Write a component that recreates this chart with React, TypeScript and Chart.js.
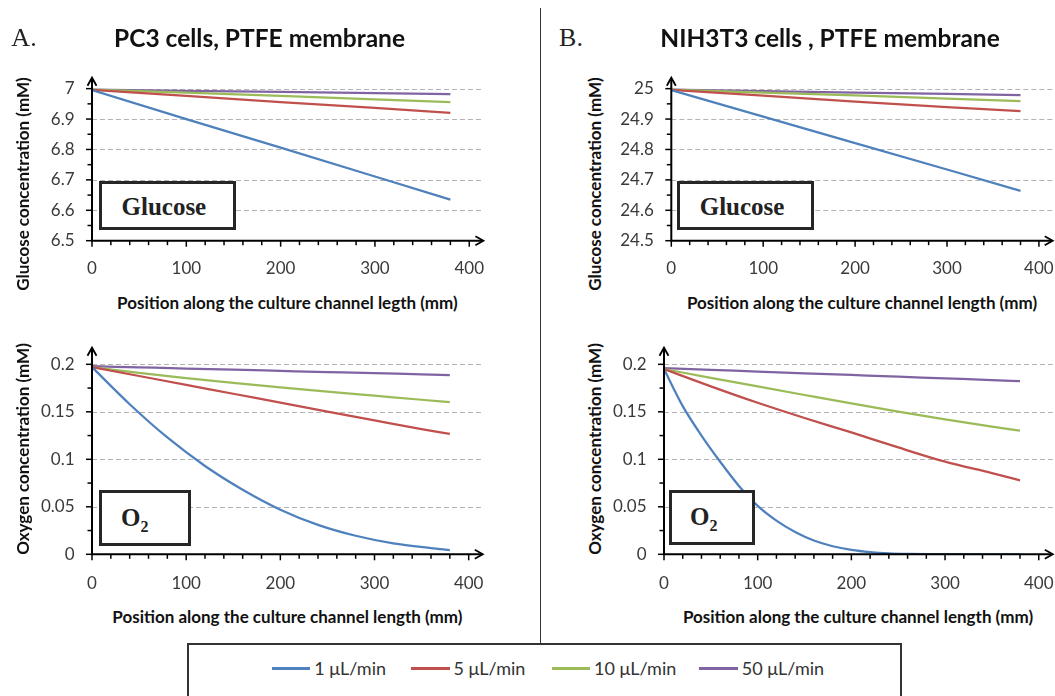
import React, { useEffect, useRef } from "react";
import { Chart, registerables } from "chart.js";
Chart.register(...registerables);

// ---------------- data ----------------
const SERIES_LABELS = ["1 \u03bcL/min", "5 \u03bcL/min", "10 \u03bcL/min", "50 \u03bcL/min"];
const SERIES_COLORS = ["#4F81BD", "#C0504D", "#9BBB59", "#8064A2"];

const X_TICKS = [0, 100, 200, 300, 400];
const GLU_A_TICKS = [6.5, 6.6, 6.7, 6.8, 6.9, 7];
const GLU_B_TICKS = [24.5, 24.6, 24.7, 24.8, 24.9, 25];
const O2_TICKS = [0, 0.05, 0.1, 0.15, 0.2];

// Glucose (straight profiles)
const GLU_POS = [0, 100, 200, 300, 380];
const A_GLU_1 = [6.995, 6.9, 6.806, 6.711, 6.635];
const A_GLU_5 = [6.996, 6.976, 6.956, 6.937, 6.92];
const A_GLU_10 = [6.997, 6.987, 6.976, 6.965, 6.956];
const A_GLU_50 = [6.997, 6.993, 6.989, 6.985, 6.982];

const B_GLU_1 = [24.995, 24.908, 24.821, 24.734, 24.664];
const B_GLU_5 = [24.996, 24.977, 24.957, 24.939, 24.926];
const B_GLU_10 = [24.997, 24.987, 24.978, 24.967, 24.959];
const B_GLU_50 = [24.997, 24.992, 24.987, 24.983, 24.979];

// Oxygen
const A_O2_POS_1 = [0, 40, 80, 120, 160, 200, 240, 280, 320, 360, 380];
const A_O2_1 = [0.197, 0.158, 0.123, 0.093, 0.068, 0.047, 0.031, 0.0195, 0.0115, 0.0065, 0.0044];
const O2_POS = [0, 50, 100, 150, 200, 250, 300, 350, 380];
const A_O2_5 = [0.197, 0.1877, 0.1784, 0.169, 0.1597, 0.1503, 0.141, 0.1318, 0.1267];
const A_O2_10 = [0.197, 0.191, 0.1855, 0.1805, 0.1758, 0.1713, 0.167, 0.1627, 0.1602];
const A_O2_50 = [0.198, 0.1968, 0.1956, 0.1943, 0.1931, 0.1919, 0.1907, 0.1894, 0.1887];

const B_O2_POS_1 = [0, 20, 40, 60, 80, 100, 120, 140, 160, 180, 200, 220, 240, 260, 280, 300, 340, 380];
const B_O2_1 = [0.195, 0.156, 0.125, 0.0974, 0.072, 0.051, 0.0355, 0.0235, 0.0145, 0.0085, 0.0047, 0.0024, 0.0011, 0.0005, 0.0002, 0.0001, 0, 0];
const B_O2_5 = [0.195, 0.1768, 0.1595, 0.1435, 0.1283, 0.1125, 0.0975, 0.0855, 0.0779];
const B_O2_10 = [0.195, 0.1858, 0.1767, 0.1677, 0.1588, 0.1502, 0.1421, 0.1345, 0.1302];
const B_O2_50 = [0.196, 0.1942, 0.1924, 0.1906, 0.1888, 0.187, 0.1852, 0.1834, 0.1823];

const X_AXIS_MAX = 415;

// ---------------- styling ----------------
const SANS = "Lato, 'Open Sans', 'DejaVu Sans', sans-serif";
const SERIF = "'Liberation Serif', 'DejaVu Serif', serif";
const TICK_COLOR = "#3a3a3a";
const TICK_SIZE = 17;

type Box = { left: number; top: number; width: number; height: number };
type Area = { left: number; right: number; top: number; bottom: number };
type SeriesDef = { pos: number[]; vals: number[]; smooth: boolean };

type PanelDef = {
  canvas: Box;
  area: Area;
  yMin: number;
  yMax: number;
  yTicks: number[];
  yMinorDiv: number;
  xLabelPad: number;
  series: SeriesDef[];
};

const arrowAxes = {
  id: "arrowAxes",
  beforeDatasetsDraw(chart: any, _a: any, opts: any) {
    const { ctx, chartArea: a, scales } = chart;
    const y = scales.y;
    ctx.save();
    ctx.strokeStyle = "#b4b4b4";
    ctx.lineWidth = 1;
    ctx.setLineDash([5, 3]);
    opts.yTicks.forEach((v: number, i: number) => {
      if (i === 0) return;
      const py = Math.round(y.getPixelForValue(v)) + 0.5;
      ctx.beginPath();
      ctx.moveTo(a.left, py);
      ctx.lineTo(a.right, py);
      ctx.stroke();
    });
    ctx.restore();
  },
  afterDatasetsDraw(chart: any, _a: any, opts: any) {
    const { ctx, chartArea: a, scales } = chart;
    const x = scales.x;
    const y = scales.y;
    const x0 = a.left;
    const y0 = a.bottom;
    ctx.save();
    ctx.strokeStyle = "#000";
    ctx.lineCap = "butt";
    ctx.lineWidth = 1.5;
    const xt: number[] = opts.xTicks;
    for (let i = 0; i < xt.length; i++) {
      const px = x.getPixelForValue(xt[i]);
      ctx.beginPath();
      ctx.moveTo(px, y0);
      ctx.lineTo(px, y0 + 6);
      ctx.stroke();
      if (i < xt.length - 1) {
        for (let k = 1; k < 5; k++) {
          const v = xt[i] + ((xt[i + 1] - xt[i]) * k) / 5;
          const p = x.getPixelForValue(v);
          ctx.beginPath();
          ctx.moveTo(p, y0);
          ctx.lineTo(p, y0 + 4.5);
          ctx.stroke();
        }
      }
    }
    const yt: number[] = opts.yTicks;
    for (let i = 0; i < yt.length; i++) {
      const py = y.getPixelForValue(yt[i]);
      ctx.beginPath();
      ctx.moveTo(x0, py);
      ctx.lineTo(x0 - 6, py);
      ctx.stroke();
      if (i < yt.length - 1) {
        for (let k = 1; k < opts.yMinorDiv; k++) {
          const v = yt[i] + ((yt[i + 1] - yt[i]) * k) / opts.yMinorDiv;
          const p = y.getPixelForValue(v);
          ctx.beginPath();
          ctx.moveTo(x0, p);
          ctx.lineTo(x0 - 4.5, p);
          ctx.stroke();
        }
      }
    }
    ctx.lineWidth = 2;
    ctx.beginPath();
    ctx.moveTo(x0, y0 + 1);
    ctx.lineTo(x0, a.top + 1);
    ctx.moveTo(x0 - 1, y0);
    ctx.lineTo(a.right - 1, y0);
    ctx.stroke();
    ctx.lineWidth = 1.8;
    ctx.beginPath();
    ctx.moveTo(x0 - 4.5, a.top + 8);
    ctx.lineTo(x0, a.top);
    ctx.lineTo(x0 + 4.5, a.top + 8);
    ctx.moveTo(a.right - 8, y0 - 4.5);
    ctx.lineTo(a.right, y0);
    ctx.lineTo(a.right - 8, y0 + 4.5);
    ctx.stroke();
    ctx.restore();
  },
};

function fmt(v: number) {
  return String(Math.round(v * 1000) / 1000);
}

function Panel({ def }: { def: PanelDef }) {
  const ref = useRef<HTMLCanvasElement | null>(null);
  useEffect(() => {
    const c = def.canvas;
    const a = def.area;
    const chart = new Chart(ref.current as HTMLCanvasElement, {
      type: "line",
      data: {
        datasets: def.series.map((s, i) => ({
          label: SERIES_LABELS[i],
          data: s.pos.map((p, j) => ({ x: p, y: s.vals[j] })),
          borderColor: SERIES_COLORS[i],
          backgroundColor: SERIES_COLORS[i],
          borderWidth: 2.25,
          pointRadius: 0,
          tension: 0,
          cubicInterpolationMode: s.smooth ? "monotone" : "default",
          fill: false,
        })),
      },
      options: {
        responsive: false,
        animation: false,
        events: [],
        layout: {
          padding: {
            left: 0,
            bottom: 0,
            top: a.top - c.top,
            right: c.left + c.width - a.right,
          },
        },
        plugins: {
          legend: { display: false },
          tooltip: { enabled: false },
          arrowAxes: { xTicks: X_TICKS, yTicks: def.yTicks, yMinorDiv: def.yMinorDiv },
        } as any,
        scales: {
          x: {
            type: "linear",
            min: 0,
            max: X_AXIS_MAX,
            grid: { display: false, drawTicks: false },
            border: { display: false },
            afterFit: (s: any) => {
              s.height = c.top + c.height - a.bottom;
            },
            afterBuildTicks: (s: any) => {
              s.ticks = X_TICKS.map((v) => ({ value: v }));
            },
            ticks: {
              autoSkip: false,
              maxRotation: 0,
              padding: def.xLabelPad,
              color: TICK_COLOR,
              font: { family: SANS, size: TICK_SIZE },
              callback: (v: any) => fmt(Number(v)),
            },
          },
          y: {
            type: "linear",
            min: def.yMin,
            max: def.yMax,
            grid: { display: false, drawTicks: false },
            border: { display: false },
            afterFit: (s: any) => {
              s.width = a.left - c.left;
            },
            afterBuildTicks: (s: any) => {
              s.ticks = def.yTicks.map((v) => ({ value: v }));
            },
            ticks: {
              autoSkip: false,
              padding: 17.5,
              color: TICK_COLOR,
              font: { family: SANS, size: TICK_SIZE },
              callback: (v: any) => fmt(Number(v)),
            },
          },
        },
      } as any,
      plugins: [arrowAxes as any],
    });
    return () => chart.destroy();
  }, [def]);
  const c = def.canvas;
  return (
    <canvas
      ref={ref}
      width={c.width}
      height={c.height}
      style={{ position: "absolute", left: c.left, top: c.top, width: c.width, height: c.height }}
    />
  );
}

const PANELS: PanelDef[] = [
  {
    canvas: { left: 30, top: 50, width: 480, height: 232 },
    area: { left: 92, right: 483.4, top: 75.2, bottom: 240.7 },
    yMin: 6.5,
    yMax: 7.036,
    yTicks: GLU_A_TICKS,
    yMinorDiv: 2,
    xLabelPad: 17.4,
    series: [
      { pos: GLU_POS, vals: A_GLU_1, smooth: false },
      { pos: GLU_POS, vals: A_GLU_5, smooth: false },
      { pos: GLU_POS, vals: A_GLU_10, smooth: false },
      { pos: GLU_POS, vals: A_GLU_50, smooth: false },
    ],
  },
  {
    canvas: { left: 605, top: 50, width: 475, height: 232 },
    area: { left: 671.3, right: 1052.7, top: 75.2, bottom: 240.7 },
    yMin: 24.5,
    yMax: 25.036,
    yTicks: GLU_B_TICKS,
    yMinorDiv: 2,
    xLabelPad: 17.4,
    series: [
      { pos: GLU_POS, vals: B_GLU_1, smooth: false },
      { pos: GLU_POS, vals: B_GLU_5, smooth: false },
      { pos: GLU_POS, vals: B_GLU_10, smooth: false },
      { pos: GLU_POS, vals: B_GLU_50, smooth: false },
    ],
  },
  {
    canvas: { left: 30, top: 320, width: 480, height: 280 },
    area: { left: 92, right: 482.8, top: 343.8, bottom: 554.3 },
    yMin: 0,
    yMax: 0.2175,
    yTicks: O2_TICKS,
    yMinorDiv: 2,
    xLabelPad: 18.8,
    series: [
      { pos: A_O2_POS_1, vals: A_O2_1, smooth: true },
      { pos: O2_POS, vals: A_O2_5, smooth: true },
      { pos: O2_POS, vals: A_O2_10, smooth: true },
      { pos: O2_POS, vals: A_O2_50, smooth: true },
    ],
  },
  {
    canvas: { left: 605, top: 320, width: 475, height: 280 },
    area: { left: 664, right: 1052.8, top: 345.5, bottom: 554.3 },
    yMin: 0,
    yMax: 0.2175,
    yTicks: O2_TICKS,
    yMinorDiv: 2,
    xLabelPad: 18.8,
    series: [
      { pos: B_O2_POS_1, vals: B_O2_1, smooth: true },
      { pos: O2_POS, vals: B_O2_5, smooth: true },
      { pos: O2_POS, vals: B_O2_10, smooth: true },
      { pos: O2_POS, vals: B_O2_50, smooth: true },
    ],
  },
];

function Text({ x, y, children, style, rotate }: any) {
  return (
    <div
      style={{
        position: "absolute",
        left: x,
        top: y,
        transform: `translate(-50%, -50%)${rotate ? " rotate(-90deg)" : ""}`,
        whiteSpace: "nowrap",
        lineHeight: 1,
        ...style,
      }}
    >
      {children}
    </div>
  );
}

const axisTitle = { fontFamily: SANS, fontWeight: 700, fontSize: 17, color: "#111" };
const panelTitle = { fontFamily: SANS, fontWeight: 700, fontSize: 24.5, color: "#111" };
const letter = { fontFamily: SERIF, fontSize: 26, color: "#222" };

function LabelBox({ b, padLeft, children }: any) {
  return (
    <div
      style={{
        position: "absolute",
        left: b.left,
        top: b.top,
        width: b.width,
        height: b.height,
        boxSizing: "border-box",
        border: "3px solid #262626",
        background: "#fff",
        display: "flex",
        alignItems: "center",
        justifyContent: "flex-start",
        fontFamily: SERIF,
        fontWeight: 700,
        fontSize: 25,
        color: "#222",
        paddingTop: 4,
        paddingLeft: padLeft,
        zIndex: 2,
      }}
    >
      {children}
    </div>
  );
}

const LEGEND_X = [271.7, 411, 551.5, 699.3];

export default function App() {
  return (
    <div
      style={{
        position: "absolute",
        left: 0,
        top: 0,
        width: 1055,
        height: 696,
        overflow: "hidden",
        background: "#fff",
      }}
    >
      {PANELS.map((p, i) => (
        <Panel key={i} def={p} />
      ))}

      <Text x={24} y={38} style={letter}>A.</Text>
      <Text x={571} y={38} style={letter}>B.</Text>
      <Text x={259.5} y={38} style={panelTitle}>PC3 cells, PTFE membrane</Text>
      <Text x={830} y={38} style={panelTitle}>NIH3T3 cells , PTFE membrane</Text>

      <Text x={287.4} y={301.7} style={axisTitle}>Position along the culture channel legth (mm)</Text>
      <Text x={862} y={301.7} style={axisTitle}>Position along the culture channel length (mm)</Text>
      <Text x={287.4} y={616} style={axisTitle}>Position along the culture channel length (mm)</Text>
      <Text x={858} y={616} style={axisTitle}>Position along the culture channel length (mm)</Text>
      <Text x={22} y={183.5} rotate style={axisTitle}>Glucose concentration (mM)</Text>
      <Text x={593.6} y={183.5} rotate style={axisTitle}>Glucose concentration (mM)</Text>
      <Text x={22} y={449} rotate style={axisTitle}>Oxygen concentration (mM)</Text>
      <Text x={593.6} y={449} rotate style={axisTitle}>Oxygen concentration (mM)</Text>

      <LabelBox b={{ left: 99, top: 180.7, width: 136.6, height: 49.3 }} padLeft={19.5}>Glucose</LabelBox>
      <LabelBox b={{ left: 677.3, top: 180.7, width: 136.6, height: 49.3 }} padLeft={19.4}>Glucose</LabelBox>
      <LabelBox b={{ left: 99, top: 490, width: 92, height: 56 }} padLeft={19}>
        <span>O<sub style={{ fontSize: 16 }}>2</sub></span>
      </LabelBox>
      <LabelBox b={{ left: 669, top: 490, width: 86, height: 54.5 }} padLeft={18}>
        <span>O<sub style={{ fontSize: 16 }}>2</sub></span>
      </LabelBox>

      <div style={{ position: "absolute", left: 539.5, top: 8, width: 1.5, height: 636, background: "#333" }} />
      <div
        style={{
          position: "absolute",
          left: 187,
          top: 642.5,
          width: 715,
          height: 100,
          boxSizing: "border-box",
          border: "2px solid #333",
          background: "#fff",
        }}
      />
      {SERIES_LABELS.map((l, i) => (
        <div
          key={l}
          style={{
            position: "absolute",
            left: LEGEND_X[i],
            top: 668.3,
            transform: "translateY(-50%)",
            display: "flex",
            alignItems: "center",
            whiteSpace: "nowrap",
            fontFamily: SANS,
            fontSize: 18,
            color: "#333",
            lineHeight: 1,
          }}
        >
          <span style={{ display: "inline-block", width: 38.5, height: 3, background: SERIES_COLORS[i], marginRight: 4 }} />
          <span>{l}</span>
        </div>
      ))}
    </div>
  );
}
